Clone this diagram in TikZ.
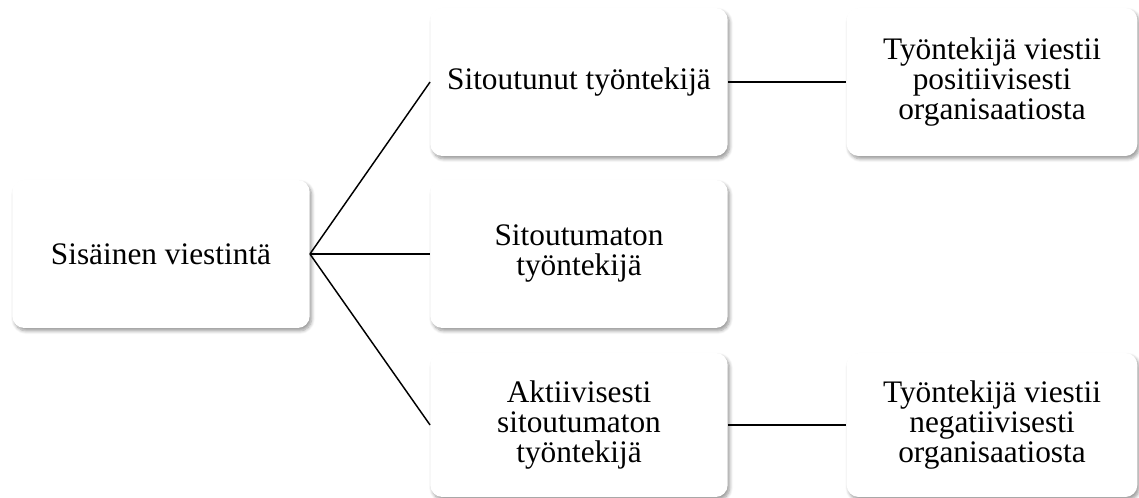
\documentclass[tikz,border=0pt]{standalone}
\usepackage{fontspec}
\setmainfont{Liberation Serif}
\usetikzlibrary{shadows.blur}

\tikzset{
  box/.style={draw=none, fill=white, rounded corners=9pt, minimum width=223pt,
    minimum height=111pt, align=center, inner sep=2pt,
    font=\fontsize{23.5}{22.5}\selectfont,
    blur shadow={shadow xshift=1.5pt, shadow yshift=-2.2pt, shadow blur steps=6,
      shadow opacity=40, shadow blur radius=2.5pt}},
  link/.style={black, line width=1.1pt}
}

\begin{document}
\begin{tikzpicture}[x=0.75pt, y=-0.75pt]
    \useasboundingbox (0, 0) rectangle (1139, 498);

    % Left box
    \node[box] (sisainen) at (161, 254) {Sisäinen viestintä};

    % Middle column
    \node[box] (sitoutunut) at (579, 82) {Sitoutunut työntekijä};
    \node[box] (sitoutumaton) at (579, 254) {Sitoutumaton\\työntekijä};
    \node[box, minimum height=108pt] (aktiivisesti) at (579, 425) {Aktiivisesti\\sitoutumaton\\työntekijä};

    % Right column
    \node[box, minimum width=218pt] (positiivisesti) at (992, 82) {Työntekijä viestii\\positiivisesti\\organisaatiosta};
    \node[box, minimum width=218pt, minimum height=108pt] (negatiivisesti) at (992, 425) {Työntekijä viestii\\negatiivisesti\\organisaatiosta};

    % Connectors
    \draw[link] (sisainen.east) -- (sitoutunut.west);
    \draw[link] (sisainen.east) -- (sitoutumaton.west);
    \draw[link] (sisainen.east) -- (aktiivisesti.west);
    \draw[link] (sitoutunut.east) -- (positiivisesti.west);
    \draw[link] (aktiivisesti.east) -- (negatiivisesti.west);

\end{tikzpicture}
\end{document}
